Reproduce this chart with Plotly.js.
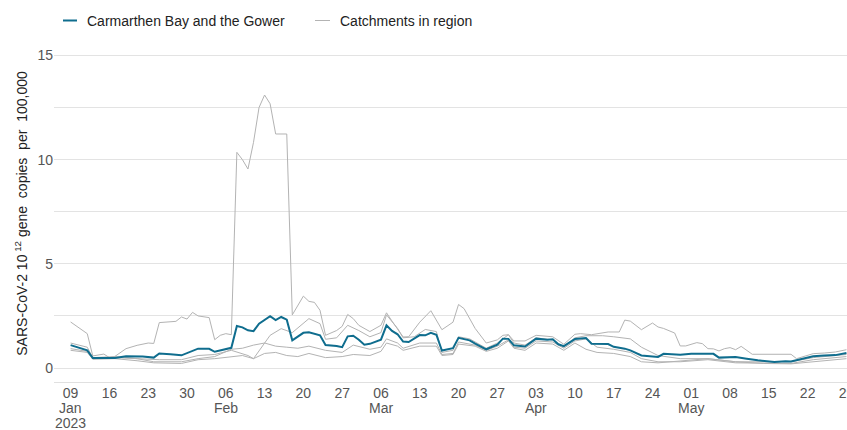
<!DOCTYPE html>
<html><head><meta charset="utf-8">
<script src="https://cdn.plot.ly/plotly-3.0.1.min.js"></script>
<style>html,body{margin:0;padding:0;background:#fff}</style>
</head><body><div id="chart" style="width:847px;height:430px"></div>
<script>
// Day offsets are counted from the first sample date.
const START_DATE = '2023-01-09';
const regionName = 'Carmarthen Bay and the Gower';
const catchmentName = 'Catchments in region';

const regionDays = [0,3,4,8,10,13,15,16,18,20,23,25,26,29,30,31,32,33,34,36,37,38,39,40,42,43,45,46,48,49,50,51,52,53,54,56,57,58,59,60,61,63,64,65,66,67,69,70,72,73,75,77,78,79,80,82,84,86,87,88,89,91,93,94,97,98,100,101,103,106,107,110,112,115,116,117,120,122,124,127,129,130,132,134,136,138,140];
const regionValues = [1.10,0.85,0.48,0.48,0.56,0.55,0.50,0.70,0.66,0.61,0.93,0.92,0.78,0.97,2.02,1.95,1.81,1.77,2.13,2.49,2.30,2.45,2.32,1.33,1.69,1.72,1.57,1.10,1.06,1.00,1.52,1.55,1.36,1.12,1.16,1.36,2.05,1.78,1.62,1.27,1.25,1.58,1.57,1.69,1.60,0.84,0.95,1.45,1.33,1.17,0.90,1.12,1.41,1.40,1.09,1.03,1.41,1.36,1.38,1.14,1.05,1.39,1.44,1.17,1.15,1.02,0.93,0.85,0.60,0.53,0.68,0.64,0.69,0.66,0.68,0.50,0.53,0.45,0.37,0.29,0.33,0.31,0.45,0.57,0.60,0.62,0.72];

const catchADays = [0,2,3,4,6,7,8,10,12,14,15,16,19,20,21,22,23,25,26,27,28,29,30,31,32,33,34,35,36,37,39,40,42,43,44,45,46,48,49,50,51,52,54,56,57,58,60,61,63,65,67,69,70,71,73,75,77,78,79,80,82,84,86,87,89,91,92,94,97,99,100,101,103,105,106,107,109,110,111,113,114,115,116,117,118,119,120,121,123,130,131,134,136,138,140];
const catchAValues = [2.21,1.85,1.65,0.58,0.67,0.50,0.56,0.93,1.09,1.20,1.18,2.18,2.24,2.45,2.35,2.67,2.50,2.42,1.36,1.57,1.65,1.60,10.35,10.00,9.55,10.83,12.50,13.10,12.68,11.23,11.23,2.55,3.45,3.20,3.15,2.77,1.57,1.80,2.00,2.57,2.37,2.05,1.75,2.05,2.65,2.25,1.49,1.50,2.20,2.75,1.84,2.20,3.05,2.85,1.90,1.20,1.35,1.57,1.60,1.30,1.30,1.57,1.50,1.50,1.14,1.62,1.65,1.60,1.73,1.73,2.30,2.25,1.84,2.16,1.97,1.90,1.68,1.06,1.06,1.22,1.17,0.93,0.92,0.82,0.93,0.98,0.88,1.04,0.66,0.66,0.45,0.69,0.72,0.77,0.88];

const catchBDays = [0,3,4,8,12,16,20,23,26,29,32,33,36,38,40,43,45,46,48,50,52,54,56,57,59,60,62,64,66,67,69,70,72,75,77,79,80,82,84,87,89,91,93,96,98,101,103,106,110,115,120,125,130,134,138,140];
const catchBValues = [1.20,1.00,0.50,0.55,0.45,0.40,0.40,0.60,0.65,0.85,0.60,0.45,1.57,1.89,1.70,2.37,2.13,1.38,1.45,2.05,1.80,1.50,1.70,2.55,1.90,1.45,1.50,1.85,1.75,0.75,0.85,1.50,1.40,0.95,1.20,1.60,1.20,1.10,1.45,1.35,1.00,1.45,1.55,1.55,1.50,1.40,1.00,0.60,0.45,0.45,0.30,0.30,0.30,0.50,0.60,0.65];

const catchCDays = [0,3,4,8,12,15,20,23,26,29,31,33,35,37,39,41,43,46,49,51,54,56,57,59,60,63,66,67,69,70,73,75,77,79,80,82,84,87,89,91,93,95,98,101,103,106,110,115,120,125,130,134,138,140];
const catchCValues = [0.93,0.80,0.45,0.50,0.45,0.30,0.30,0.45,0.55,0.90,0.95,1.10,1.20,1.05,1.00,0.95,1.05,0.85,0.75,1.10,0.90,1.00,1.40,1.20,0.95,1.20,1.20,0.65,0.70,1.25,1.10,0.85,1.05,1.35,1.00,0.95,1.30,1.25,0.95,1.30,1.40,1.00,0.90,0.75,0.45,0.30,0.30,0.40,0.25,0.25,0.22,0.40,0.50,0.55];

const catchDDays = [0,3,4,8,12,15,20,23,26,29,31,33,35,37,39,41,43,46,49,51,54,56,57,59,60,63,66,67,69,70,73,75,77,79,80,82,84,87,89,91,93,95,98,101,103,106,110,115,120,125,130,134,138,140];
const catchDValues = [0.85,0.75,0.42,0.45,0.35,0.25,0.22,0.40,0.45,0.55,0.60,0.45,0.70,0.75,0.60,0.55,0.70,0.50,0.55,0.65,0.60,0.80,1.20,1.05,0.85,1.05,1.05,0.60,0.65,1.15,1.05,0.80,0.95,1.30,0.95,0.85,1.20,1.15,0.85,1.20,0.90,0.75,0.70,0.55,0.30,0.25,0.35,0.45,0.30,0.22,0.20,0.30,0.40,0.45];

const xTickDays = [0,7,14,21,28,35,42,49,56,63,70,77,84,91,98,105,112,119,126,133,140];
const xTickLabels = ['09','16','23','30','06','13','20','27','06','13','20','27','03','10','17','24','01','08','15','22','29'];
const monthDays = [0,28,56,84,112];
const monthLabels = ['Jan','Feb','Mar','Apr','May'];
const yearLabel = '2023';
const yTitle = 'SARS-CoV-2 10<sup> 12</sup> gene  copies  per  100,000';

const BLUE = '#0f6d8e';
const GREY = '#b3b3b3';
const FONT = 'Liberation Sans, Arial, sans-serif';

function toDate(d){
  const base = Date.parse(START_DATE + 'T00:00:00Z');
  return new Date(base + d*86400000).toISOString().replace('T',' ').slice(0,16);
}

const catchments = [
  [catchADays, catchAValues],
  [catchBDays, catchBValues],
  [catchCDays, catchCValues],
  [catchDDays, catchDValues]
];

const traces = catchments.map(([days, vals]) => ({
  type: 'scatter', mode: 'lines',
  x: days.map(toDate), y: vals,
  name: catchmentName, legendgroup: 'c', showlegend: false,
  line: {color: GREY, width: 1}, hoverinfo: 'skip'
}));
traces.push({
  type: 'scatter', mode: 'lines',
  x: regionDays.map(toDate), y: regionValues,
  name: regionName, showlegend: false,
  line: {color: BLUE, width: 2}
});

// plot area in pixels: x 54..847, y 45..382
const PL = 54, PR = 847, PT = 45, PB = 382;
const px = v => (v - PL) / (PR - PL);
const py = v => (PB - v) / (PB - PT);

const annotations = [
  {xref: 'paper', yref: 'paper', x: px(85), y: py(20.5), xanchor: 'left', yanchor: 'middle', showarrow: false, text: regionName, font: {size: 14, color: '#222'}},
  {xref: 'paper', yref: 'paper', x: px(338), y: py(20.5), xanchor: 'left', yanchor: 'middle', showarrow: false, text: catchmentName, font: {size: 14, color: '#222'}}
];
monthDays.forEach((d, i) => annotations.push({
  xref: 'x', yref: 'paper', x: toDate(d), y: py(408.5), xanchor: 'center', yanchor: 'middle',
  showarrow: false, text: monthLabels[i], font: {size: 14, color: '#555'}
}));
annotations.push({
  xref: 'x', yref: 'paper', x: toDate(monthDays[0]), y: py(422.5), xanchor: 'center', yanchor: 'middle',
  showarrow: false, text: yearLabel, font: {size: 14, color: '#555'}
});

const layout = {
  width: 847, height: 430,
  margin: {l: PL, r: 847 - PR, t: PT, b: 430 - PB, pad: 0},
  paper_bgcolor: '#fff', plot_bgcolor: '#fff',
  font: {family: FONT, size: 14, color: '#555'},
  showlegend: false,
  xaxis: {
    type: 'date',
    range: [toDate(-3), toDate(140.1)],
    tickvals: xTickDays.map(toDate), ticktext: xTickLabels,
    ticklabeloverflow: 'allow',
    showgrid: false, zeroline: false,
    showline: true, linecolor: '#e0e0e0', linewidth: 1,
    ticks: '', ticklabelstandoff: -2, tickfont: {size: 14, color: '#555'},
    automargin: false
  },
  yaxis: {
    range: [-0.67, 15.5],
    tick0: 0, dtick: 5,
    minor: {dtick: 2.5, showgrid: true, gridcolor: '#e3e3e3', gridwidth: 1, ticks: ''},
    showgrid: true, gridcolor: '#e3e3e3', gridwidth: 1,
    zeroline: false, showline: false, ticks: '',
    tickfont: {size: 14, color: '#555'},
    title: {text: yTitle, font: {size: 14, color: '#222'}, standoff: 6},
    automargin: false
  },
  shapes: [
    {type: 'line', xref: 'paper', yref: 'paper', x0: px(63), x1: px(77), y0: py(20.5), y1: py(20.5), line: {color: BLUE, width: 2}},
    {type: 'line', xref: 'paper', yref: 'paper', x0: px(315), x1: px(330), y0: py(20.5), y1: py(20.5), line: {color: GREY, width: 1}}
  ],
  annotations: annotations
};

Plotly.newPlot('chart', traces, layout, {displayModeBar: false, staticPlot: true});
</script>
</body></html>
